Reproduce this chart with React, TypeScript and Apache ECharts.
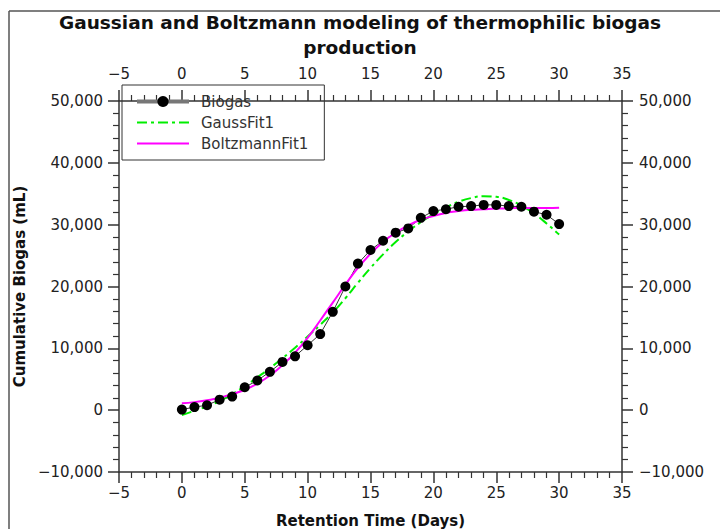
import React, { useEffect, useRef } from 'react';
import * as echarts from 'echarts';

const days = [0, 1, 2, 3, 4, 5, 6, 7, 8, 9, 10, 11, 12, 13, 14, 15, 16, 17, 18, 19, 20, 21, 22, 23, 24, 25, 26, 27, 28, 29, 30];
const biogas = [100, 500, 800, 1700, 2200, 3700, 4800, 6200, 7800, 8700, 10500, 12300, 15900, 20000, 23700, 25900, 27400, 28700, 29400, 31100, 32200, 32500, 32900, 33000, 33200, 33200, 33000, 32900, 32100, 31600, 30100];
const gaussFit1 = [-800, -100, 600, 1500, 2600, 3900, 5300, 6800, 8400, 10100, 11900, 13800, 15800, 18100, 20600, 23000, 25200, 27200, 28900, 30400, 31700, 32800, 33700, 34300, 34600, 34500, 34000, 33100, 31800, 30200, 28400];
const boltzmannFit1 = [1100, 1300, 1600, 2000, 2600, 3300, 4300, 5600, 7300, 9300, 11700, 14500, 17400, 20300, 23000, 25300, 27200, 28700, 29900, 30800, 31400, 31900, 32200, 32400, 32500, 32600, 32650, 32700, 32700, 32700, 32750];

const seriesNames = ['Biogas', 'GaussFit1', 'BoltzmannFit1'];
const titleLines = ['Gaussian and Boltzmann modeling of thermophilic biogas', 'production'];
const xName = 'Retention Time (Days)';
const yName = 'Cumulative Biogas (mL)';

const FONT = 'DejaVu Sans';
const AXIS_COLOR = '#333';

function fmt(v: number): string {
  const s = Math.abs(v).toLocaleString('en-US');
  return (v < 0 ? '\u2212' : '') + s;
}

function axisBase(labelMargin: number) {
  return {
    axisLine: { show: true, onZero: false, lineStyle: { color: AXIS_COLOR, width: 1.5 } },
    axisTick: { show: true, inside: false, length: 11, lineStyle: { color: AXIS_COLOR, width: 1.5 } },
    minorTick: { show: true, splitNumber: 5, length: 6, lineStyle: { color: AXIS_COLOR, width: 1.2 } },
    splitLine: { show: false },
    minorSplitLine: { show: false },
    axisLabel: { margin: labelMargin, fontSize: 15, fontFamily: FONT, color: '#222', formatter: fmt },
  };
}

export default function App() {
  const ref = useRef<HTMLDivElement>(null);
  useEffect(() => {
    if (!ref.current) return;
    const chart = echarts.init(ref.current, null, { renderer: 'svg' });
    const pairs = (ys: number[]) => days.map((d, i) => [d, ys[i]]);
    chart.setOption({
      animation: false,
      backgroundColor: '#fff',
      title: {
        text: titleLines.join('\n'),
        left: 'center',
        top: 5,
        textStyle: { fontFamily: FONT, fontSize: 18.5, fontWeight: 'bold', color: '#111', lineHeight: 25 },
      },
      grid: { left: 119, right: 98, top: 101, bottom: 57, containLabel: false, outerBoundsMode: 'none' },
      legend: {
        orient: 'vertical',
        left: 122,
        top: 85,
        borderColor: '#333',
        borderWidth: 1,
        padding: [9, 16, 9, 13],
        itemWidth: 52,
        itemHeight: 14,
        itemGap: 6,
        textStyle: { fontFamily: FONT, fontSize: 15, color: '#333', padding: [0, 0, 0, 7] },
        data: [
          { name: seriesNames[0], lineStyle: { width: 4, color: '#777' } },
          { name: seriesNames[1], itemStyle: { opacity: 0 } },
          { name: seriesNames[2], itemStyle: { opacity: 0 } },
        ],
      },
      xAxis: [
        {
          type: 'value', position: 'bottom', min: -5, max: 35, interval: 5,
          name: xName, nameLocation: 'middle', nameGap: 41,
          nameTextStyle: { fontFamily: FONT, fontSize: 15, fontWeight: 'bold', color: '#111' },
          ...axisBase(13),
        },
        {
          type: 'value', position: 'top', min: -5, max: 35, interval: 5,
          ...axisBase(20),
        },
      ],
      yAxis: [
        {
          type: 'value', position: 'left', min: -10000, max: 50000, interval: 10000,
          name: yName, nameLocation: 'middle', nameGap: 90,
          nameTextStyle: { fontFamily: FONT, fontSize: 15, fontWeight: 'bold', color: '#111' },
          ...axisBase(16),
        },
        {
          type: 'value', position: 'right', min: -10000, max: 50000, interval: 10000,
          ...axisBase(17),
        },
      ],
      graphic: [
        { type: 'line', shape: { x1: 9, y1: 11, x2: 720, y2: 11 }, style: { stroke: '#555', lineWidth: 1.5 } },
        { type: 'line', shape: { x1: 9, y1: 11, x2: 9, y2: 529 }, style: { stroke: '#555', lineWidth: 1.5 } },
      ],
      series: [
        {
          name: seriesNames[0], type: 'line', data: pairs(biogas),
          symbol: 'circle', symbolSize: 10, showAllSymbol: true,
          itemStyle: { color: '#000' },
          lineStyle: { color: '#333', width: 1 },
        },
        {
          name: seriesNames[1], type: 'line', data: pairs(gaussFit1), smooth: true,
          symbol: 'none', itemStyle: { color: '#00ee00' },
          lineStyle: { color: '#00ee00', width: 2, type: [10, 4, 3, 4] },
        },
        {
          name: seriesNames[2], type: 'line', data: pairs(boltzmannFit1), smooth: true,
          symbol: 'none', itemStyle: { color: '#ff00ff' },
          lineStyle: { color: '#ff00ff', width: 2 },
        },
      ],
    });
    return () => chart.dispose();
  }, []);
  return <div ref={ref} style={{ position: 'absolute', left: 0, top: 0, width: 720, height: 529 }} />;
}
